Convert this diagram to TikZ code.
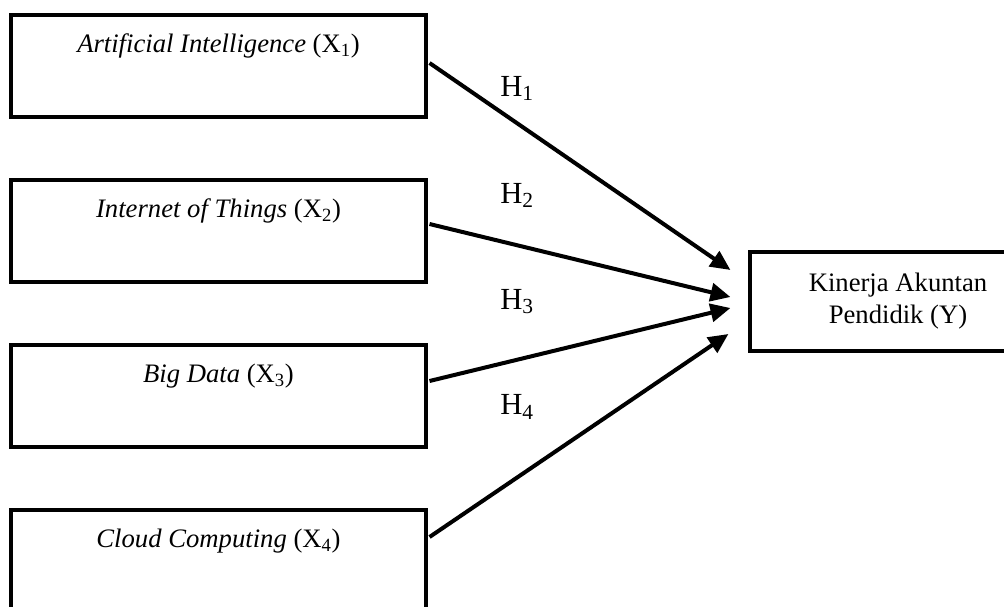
\documentclass[tikz,border=0pt]{standalone}
\usepackage{fontspec}
\setmainfont{Liberation Serif}
\usetikzlibrary{calc,arrows.meta}

\tikzset{
  varbox/.style={draw, line width=2.3pt, inner sep=0pt, minimum width=311.25pt,
    text height=27.75pt, text depth=48.75pt, font=\fontsize{20}{24}\selectfont},
  depbox/.style={draw, line width=2.3pt, inner sep=0pt, minimum width=222pt,
    minimum height=74.25pt, align=center, font=\fontsize{20}{24}\selectfont},
  hyp/.style={anchor=base west, inner sep=0pt, font=\fontsize{23}{27}\selectfont},
  hpath/.style={line width=3pt, -{Triangle[length=15pt,width=13.5pt]}}
}

\begin{document}
\begin{tikzpicture}[x=0.75pt,y=-0.75pt]
  \useasboundingbox (0,0) rectangle (1004,607);
  \clip (0,0) rectangle (1004,607);
  % independent variables
  \node[varbox] (x1) at (218.5,66) {\textit{Artificial Intelligence} (X\textsubscript{1})};
  \node[varbox] (x2) at (218.5,231) {\textit{Internet of Things} (X\textsubscript{2})};
  \node[varbox] (x3) at (218.5,396) {\textit{Big Data} (X\textsubscript{3})};
  \node[varbox] (x4) at (218.5,561) {\textit{Cloud Computing} (X\textsubscript{4})};
  % dependent variable
  \node[depbox] (kin) at (898,301.5) {Kinerja Akuntan\\Pendidik (Y)};
  % hypotheses
  \node[hyp] (h1) at (500,96) {H\textsubscript{1}};
  \node[hyp] (h2) at (500,203) {H\textsubscript{2}};
  \node[hyp] (h3) at (500,309) {H\textsubscript{3}};
  \node[hyp] (h4) at (500,414.5) {H\textsubscript{4}};
  % paths
  \draw[hpath] ($ (x1.east) + (2,-3) $) -- ($ (kin.west) + (-18,-31.5) $);
  \draw[hpath] ($ (x2.east) + (2,-7) $) -- ($ (kin.west) + (-18,-4.5) $);
  \draw[hpath] ($ (x3.east) + (2,-15) $) -- ($ (kin.west) + (-18,6.5) $);
  \draw[hpath] ($ (x4.east) + (2,-24) $) -- ($ (kin.west) + (-20,32.5) $);
\end{tikzpicture}
\end{document}
